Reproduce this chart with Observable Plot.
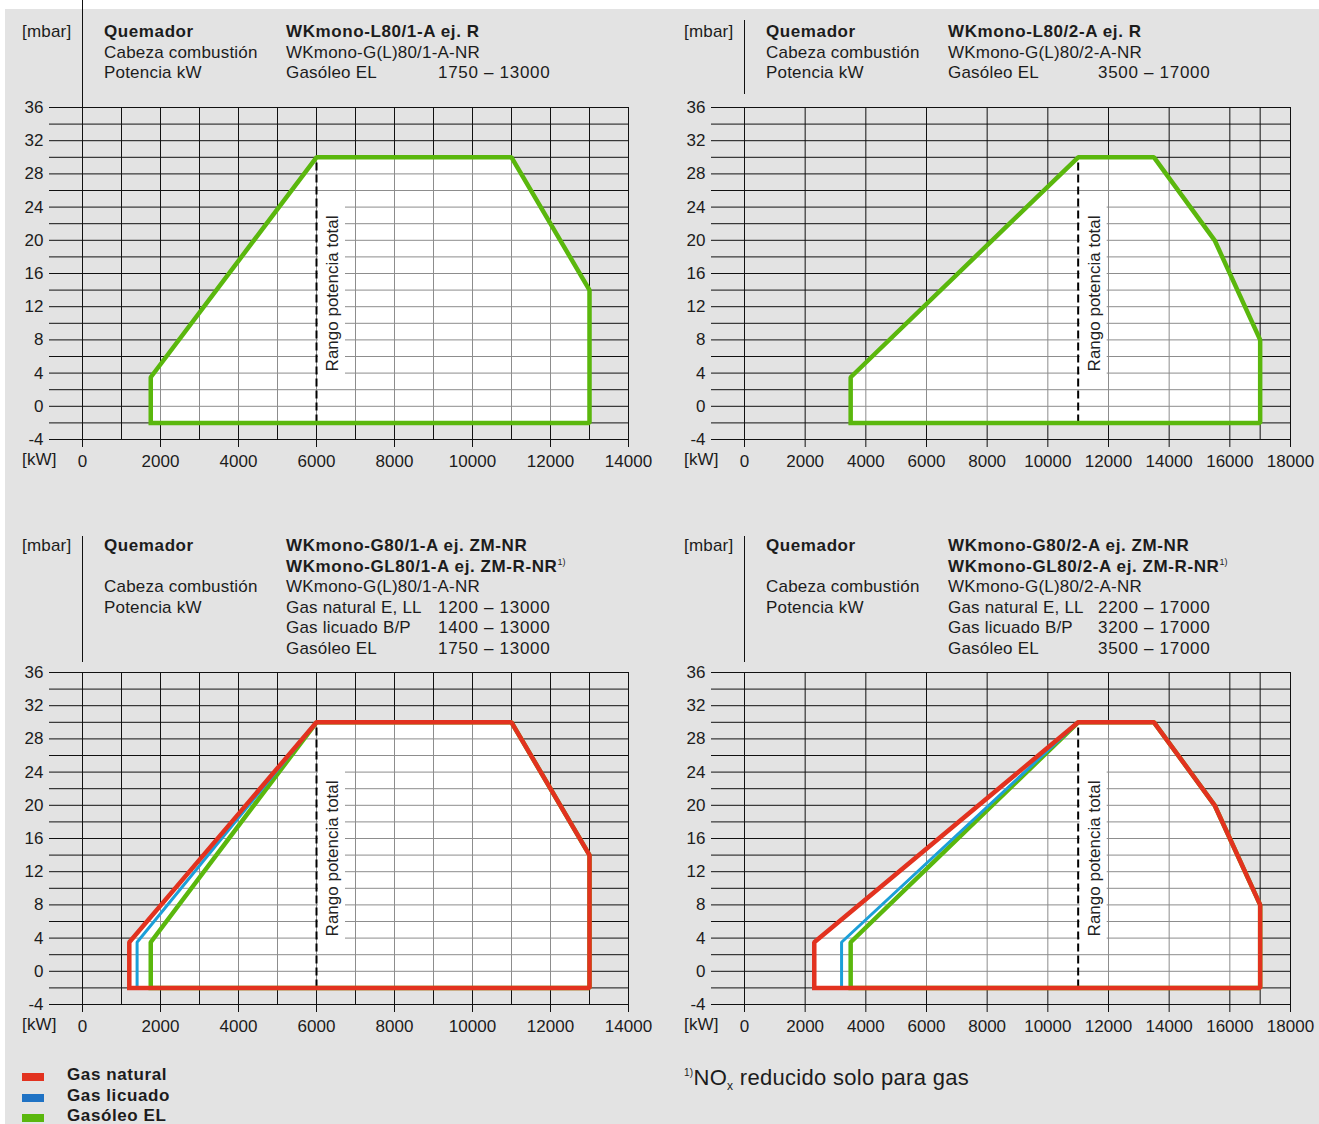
<!DOCTYPE html>
<html><head><meta charset="utf-8">
<script src="https://cdn.jsdelivr.net/npm/d3@7"></script>
<script src="https://cdn.jsdelivr.net/npm/@observablehq/plot@0.6"></script>
<style>
body{margin:0;background:#fff;}
#page{position:relative;width:1319px;height:1124px;overflow:hidden;font-family:"Liberation Sans",Arial,sans-serif;color:#1c1c1c;}
#bg{position:absolute;left:5px;top:9px;right:0;bottom:0;background:#e3e3e3;}
.t{position:absolute;font-size:17px;line-height:20px;white-space:nowrap;letter-spacing:0.2px;}
.b{font-weight:bold;letter-spacing:0.6px;}
.num{letter-spacing:0.7px;}
.chart{position:absolute;}
.sep{position:absolute;width:1px;background:#111;}
.fn{font-size:9px;position:relative;top:-7px;font-weight:normal;letter-spacing:0;}
.sw{position:absolute;width:22px;height:8px;}
</style></head><body><div id="page"><div id="bg"></div></div>
<script>
// ---------- data ----------
const mbarTicks = [-4, 0, 4, 8, 12, 16, 20, 24, 28, 32, 36];
const mbarGrid = [-4, -2, 0, 2, 4, 6, 8, 10, 12, 14, 16, 18, 20, 22, 24, 26, 28, 30, 32, 34, 36];
const kwTicks1 = [0, 2000, 4000, 6000, 8000, 10000, 12000, 14000];
const kwGrid1 = [0, 1000, 2000, 3000, 4000, 5000, 6000, 7000, 8000, 9000, 10000, 11000, 12000, 13000, 14000];
const kwTicks2 = [0, 2000, 4000, 6000, 8000, 10000, 12000, 14000, 16000, 18000];
const kwGrid2 = [0, 2000, 4000, 6000, 8000, 10000, 12000, 14000, 16000, 17000, 18000];
const kwMax1 = 14000, kwMax2 = 18000;
const fullRange1 = 6000, fullRange2 = 11000;
const rangeLabel = "Rango potencia total";

// working fields [kW, mbar]
const oil80_1 = [[1750, -2], [1750, 3.5], [6000, 30], [11000, 30], [13000, 14], [13000, -2]];
const gas80_1 = [[1200, -2], [1200, 3.5], [6000, 30], [11000, 30], [13000, 14], [13000, -2]];
const lpg80_1 = [[1400, -2], [1400, 3.5], [6000, 30], [11000, 30], [13000, 14], [13000, -2]];
const oil80_2 = [[3500, -2], [3500, 3.5], [11000, 30], [13500, 30], [15500, 20], [17000, 8], [17000, -2]];
const gas80_2 = [[2300, -2], [2300, 3.5], [11000, 30], [13500, 30], [15500, 20], [17000, 8], [17000, -2]];
const lpg80_2 = [[3200, -2], [3200, 3.5], [11000, 30], [13500, 30], [15500, 20], [17000, 8], [17000, -2]];

const fuels = ["Gas natural", "Gas licuado", "Gasóleo EL"];

// header texts
const headA = [["Quemador", "WKmono-L80/1-A ej. R"], ["Cabeza combustión", "WKmono-G(L)80/1-A-NR"], ["Potencia kW", "Gasóleo EL", "1750 – 13000"]];
const headB = [["Quemador", "WKmono-L80/2-A ej. R"], ["Cabeza combustión", "WKmono-G(L)80/2-A-NR"], ["Potencia kW", "Gasóleo EL", "3500 – 17000"]];
const headC = [["Quemador", "WKmono-G80/1-A ej. ZM-NR"], ["", "WKmono-GL80/1-A ej. ZM-R-NR", "", "1)"], ["Cabeza combustión", "WKmono-G(L)80/1-A-NR"], ["Potencia kW", "Gas natural E, LL", "1200 – 13000"], ["", "Gas licuado B/P", "1400 – 13000"], ["", "Gasóleo EL", "1750 – 13000"]];
const headD = [["Quemador", "WKmono-G80/2-A ej. ZM-NR"], ["", "WKmono-GL80/2-A ej. ZM-R-NR", "", "1)"], ["Cabeza combustión", "WKmono-G(L)80/2-A-NR"], ["Potencia kW", "Gas natural E, LL", "2200 – 17000"], ["", "Gas licuado B/P", "3200 – 17000"], ["", "Gasóleo EL", "3500 – 17000"]];
const footnote = ["1)", "NO", "x", " reducido solo para gas"];

// ---------- styles ----------
const colors = {"Gas natural": "#e2321f", "Gas licuado": "#1c9fd8", "Gasóleo EL": "#5ab70d"};
const legendColors = {"Gas natural": "#e2321f", "Gas licuado": "#1f72c4", "Gasóleo EL": "#5ab70d"};
const widths = {"Gas natural": 4.5, "Gas licuado": 3, "Gasóleo EL": 4.5};
const band = {y1: 3, y2: 25, y: 13.6};
const FONT = '"Liberation Sans", Arial, sans-serif';
const page = document.getElementById("page");

function chart({left, top, xmax, grid, ticks, range, series}) {
  const pxW = 546, leftExt = 33;
  const xmin = -leftExt * xmax / pxW;
  const closed = pts => [...pts, pts[0]];
  const outer = closed(series[0].pts);
  const svg = Plot.plot({
    width: 660, height: 390,
    marginLeft: 49, marginRight: 32, marginTop: 17, marginBottom: 41,
    x: {domain: [xmin, xmax]},
    y: {domain: [-4, 36]},
    style: {fontFamily: FONT, fontSize: "17px", color: "#1c1c1c", background: "transparent", overflow: "visible"},
    marks: [
      Plot.line(outer, {x: d => d[0], y: d => d[1], fill: "white", stroke: "none"}),
      Plot.ruleY(mbarGrid, {stroke: "#111", strokeWidth: 1}),
      Plot.ruleX(grid, {y1: -4, y2: 36, stroke: "#111", strokeWidth: 1}),
      Plot.line(outer, {x: d => d[0], y: d => d[1], fill: "white", fillOpacity: 0.52, stroke: "none"}),
      Plot.rect([range], {x1: d => d, x2: d => d, y1: band.y1, y2: band.y2, fill: "white", insetLeft: 2, insetRight: -29}),
      Plot.ruleX([range], {y1: -2, y2: 30, stroke: "#000", strokeWidth: 2, strokeDasharray: "8,4"}),
      Plot.text([range], {x: d => d, y: band.y, text: () => rangeLabel, rotate: -90, dx: 16, fill: "#222", fontSize: 17}),
      ...series.slice().reverse().map(s => Plot.line(closed(s.pts), {
        x: d => d[0], y: d => d[1], stroke: colors[s.fuel], strokeWidth: widths[s.fuel],
        strokeLinejoin: "miter", strokeLinecap: "square"
      })),
      Plot.axisY(mbarTicks, {tickSize: 0, tickPadding: 6, label: null, tickFormat: d => String(d)}),
      Plot.axisX(ticks, {tickSize: 8, tickPadding: 7, label: null, tickFormat: d => String(d), stroke: "#111"})
    ]
  });
  svg.classList.add("chart");
  svg.style.left = left + "px";
  svg.style.top = top + "px";
  page.appendChild(svg);
}

function txt(x, yc, str, cls, extra) {
  const d = document.createElement("div");
  d.className = "t " + (cls || "");
  d.style.left = x + "px";
  d.style.top = (yc - 10) + "px";
  d.textContent = str;
  if (extra) {
    const s = document.createElement("span");
    s.className = "fn";
    s.textContent = extra;
    d.appendChild(s);
  }
  page.appendChild(d);
  return d;
}
function sep(x, y1, y2) {
  const d = document.createElement("div");
  d.className = "sep";
  d.style.left = x + "px";
  d.style.top = y1 + "px";
  d.style.height = (y2 - y1) + "px";
  page.appendChild(d);
}
function header(ox, rows, y0, colX) {
  txt(ox + 22, y0, "[mbar]");
  rows.forEach((r, i) => {
    const yc = y0 + i * 20.6;
    if (r[0]) txt(ox + colX[0], yc, r[0], i === 0 ? "b" : "");
    if (r[1]) txt(ox + colX[1], yc, r[1], (i === 0 || r[3]) ? "b" : "", r[3]);
    if (r[2]) txt(ox + colX[2], yc, r[2], "num");
  });
}

// ---------- build ----------
chart({left: 0, top: 90, xmax: kwMax1, grid: kwGrid1, ticks: kwTicks1, range: fullRange1,
  series: [{fuel: "Gasóleo EL", pts: oil80_1}]});
chart({left: 662, top: 90, xmax: kwMax2, grid: kwGrid2, ticks: kwTicks2, range: fullRange2,
  series: [{fuel: "Gasóleo EL", pts: oil80_2}]});
chart({left: 0, top: 655, xmax: kwMax1, grid: kwGrid1, ticks: kwTicks1, range: fullRange1,
  series: [{fuel: "Gas natural", pts: gas80_1}, {fuel: "Gas licuado", pts: lpg80_1}, {fuel: "Gasóleo EL", pts: oil80_1}]});
chart({left: 662, top: 655, xmax: kwMax2, grid: kwGrid2, ticks: kwTicks2, range: fullRange2,
  series: [{fuel: "Gas natural", pts: gas80_2}, {fuel: "Gas licuado", pts: lpg80_2}, {fuel: "Gasóleo EL", pts: oil80_2}]});

header(0, headA, 32, [104, 286, 438]);
header(662, headB, 32, [104, 286, 436]);
header(0, headC, 546, [104, 286, 438]);
header(662, headD, 546, [104, 286, 436]);
sep(82, 0, 107);
sep(744, 20, 94);
sep(82, 536, 662);
sep(744, 536, 662);
txt(22, 460, "[kW]");
txt(684, 460, "[kW]");
txt(22, 1025, "[kW]");
txt(684, 1025, "[kW]");

// legend
fuels.forEach((f, i) => {
  const sw = document.createElement("div");
  sw.className = "sw";
  sw.style.left = "22px";
  sw.style.top = (1073 + i * 20.6) + "px";
  sw.style.background = legendColors[f];
  page.appendChild(sw);
  txt(67, 1075 + i * 20.6, f, "b");
});

// footnote
const fn = document.createElement("div");
fn.className = "t";
fn.style.left = "684px";
fn.style.top = "1066px";
fn.style.fontSize = "22px";
fn.style.lineHeight = "24px";
fn.style.letterSpacing = "0.3px";
fn.innerHTML = '<span style="font-size:10px;position:relative;top:-9px">' + footnote[0] + '</span>' + footnote[1] +
  '<span style="font-size:12px;position:relative;top:5px">' + footnote[2] + '</span>' + footnote[3];
page.appendChild(fn);
</script>
</body></html>
